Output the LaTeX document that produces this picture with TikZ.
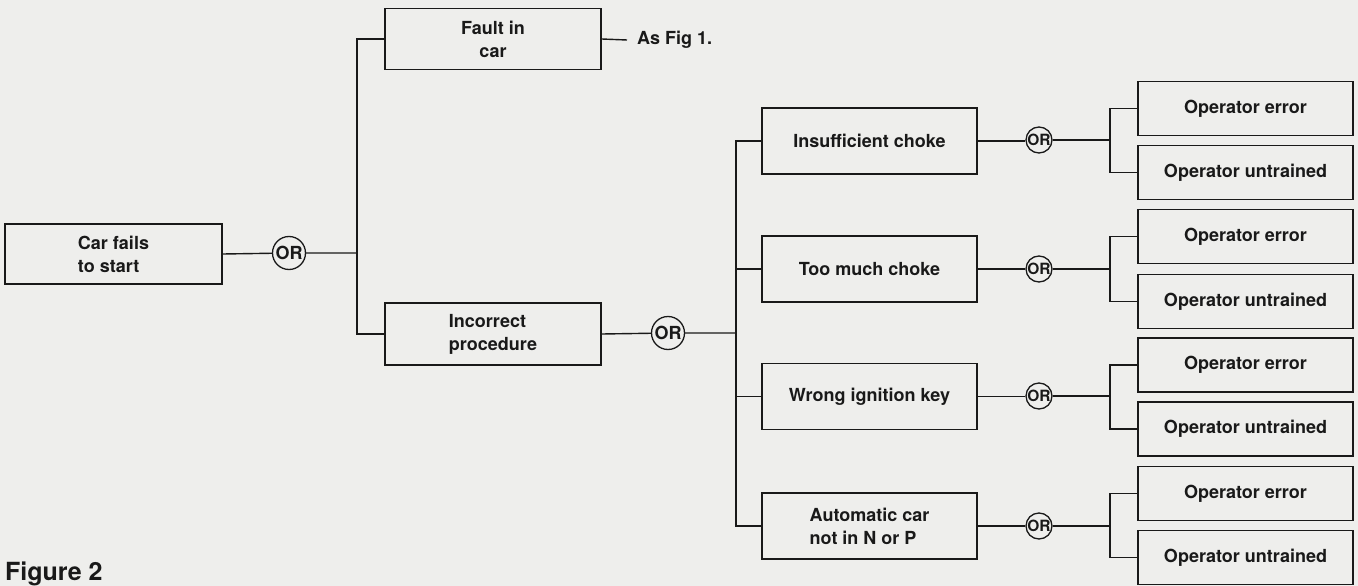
\documentclass[tikz,border=0pt]{standalone}
\usepackage{fontspec}
\setmainfont{TeX Gyre Heros}
\definecolor{inkc}{RGB}{25,25,25}
\definecolor{paper}{RGB}{238,238,236}
\tikzset{
  conn/.style={draw=inkc, line width=1.4pt},
  box/.style={draw=inkc, line width=1.6pt, rectangle, inner sep=0pt, text=inkc,
    font=\fontsize{18}{23}\selectfont\bfseries},
  topbox/.style={box, minimum width=216pt, minimum height=61pt},
  midbox/.style={box, minimum width=215pt, minimum height=66pt},
  leafbox/.style={box, minimum width=215pt, minimum height=54pt},
  orbig/.style={circle, draw=inkc, line width=1.3pt, inner sep=0pt, minimum size=33pt,
    text=inkc, font=\fontsize{18}{18}\selectfont\bfseries},
  orsmall/.style={circle, draw=inkc, line width=1.3pt, inner sep=0pt, minimum size=26pt,
    text=inkc, font=\fontsize{15.5}{15.5}\selectfont\bfseries},
  plain/.style={inner sep=0pt, text=inkc, font=\fontsize{18}{23}\selectfont\bfseries}
}
\begin{document}
\begin{tikzpicture}[x=1pt,y=-1pt]
\fill[paper] (0,0) rectangle (1358,586);
\useasboundingbox (0,0) rectangle (1358,586);

% left part
\node[box, minimum width=217pt, minimum height=60pt, align=left] (car) at (113.5,254) {Car fails\\to start};
\node[orbig] (or1) at (289,253) {OR};
\coordinate (j1) at (357,253);
\node[topbox, align=center] (fault) at (493,39) {Fault in\\car};
\node[topbox, minimum height=62pt, align=left] (incorrect) at (493,334) {Incorrect\\procedure};
\node[plain, anchor=west, inner xsep=10pt] (asfig) at (627,40) {As Fig 1.};
\node[orbig] (or2) at (668,333) {OR};
\coordinate (j2) at (736,333);

\draw[conn] (car.east) -- (or1) -- (j1);
\draw[conn] (fault.west) -| (j1) |- (incorrect.west);
\draw[conn] (fault.east) -- (asfig.west);
\draw[conn] (incorrect.east) -- (or2) -- (j2);

% middle boxes
\node[midbox] (ins) at (869.5,141) {Insufficient choke};
\node[midbox] (tmc) at (869.5,269) {Too much choke};
\node[midbox] (wik) at (869.5,396.5) {Wrong ignition key};
\node[midbox, align=left] (auto) at (869.5,526) {Automatic car\\not in N or P};

\draw[conn] (ins.west) -| (j2) |- (auto.west);
\draw[conn] (tmc.west) -- (tmc.west -| j2);
\draw[conn] (wik.west) -- (wik.west -| j2);

% OR gates on the right
\node[orsmall] (ora) at (1039,140) {OR};
\node[orsmall] (orb) at (1039,269) {OR};
\node[orsmall] (orc) at (1039,396) {OR};
\node[orsmall] (ord) at (1039,526) {OR};
\coordinate (ja) at (1110,140);
\coordinate (jb) at (1110,269);
\coordinate (jc) at (1110,396);
\coordinate (jd) at (1110,526);

% leaf boxes
\node[leafbox] (e1) at (1245.5,108.5) {Operator error};
\node[leafbox] (u1) at (1245.5,172.5) {Operator untrained};
\node[leafbox] (e2) at (1245.5,236.5) {Operator error};
\node[leafbox] (u2) at (1245.5,301.5) {Operator untrained};
\node[leafbox] (e3) at (1245.5,365) {Operator error};
\node[leafbox] (u3) at (1245.5,429) {Operator untrained};
\node[leafbox] (e4) at (1245.5,493.5) {Operator error};
\node[leafbox] (u4) at (1245.5,557.5) {Operator untrained};

\draw[conn] (ins.east) -- (ins.east -| ora.west);
\draw[conn] (tmc.east) -- (tmc.east -| orb.west);
\draw[conn] (wik.east) -- (wik.east -| orc.west);
\draw[conn] (auto.east) -- (auto.east -| ord.west);
\draw[conn] (ora) -- (ja);
\draw[conn] (orb) -- (jb);
\draw[conn] (orc) -- (jc);
\draw[conn] (ord) -- (jd);
\draw[conn] (e1.west) -| (ja) |- (u1.west);
\draw[conn] (e2.west) -| (jb) |- (u2.west);
\draw[conn] (e3.west) -| (jc) |- (u3.west);
\draw[conn] (e4.west) -| (jd) |- (u4.west);

% caption
\node[inner sep=0pt, anchor=base west, text=inkc, font=\fontsize{25}{25}\selectfont\bfseries] (caption) at (5,580.5) {Figure 2};
\end{tikzpicture}
\end{document}
